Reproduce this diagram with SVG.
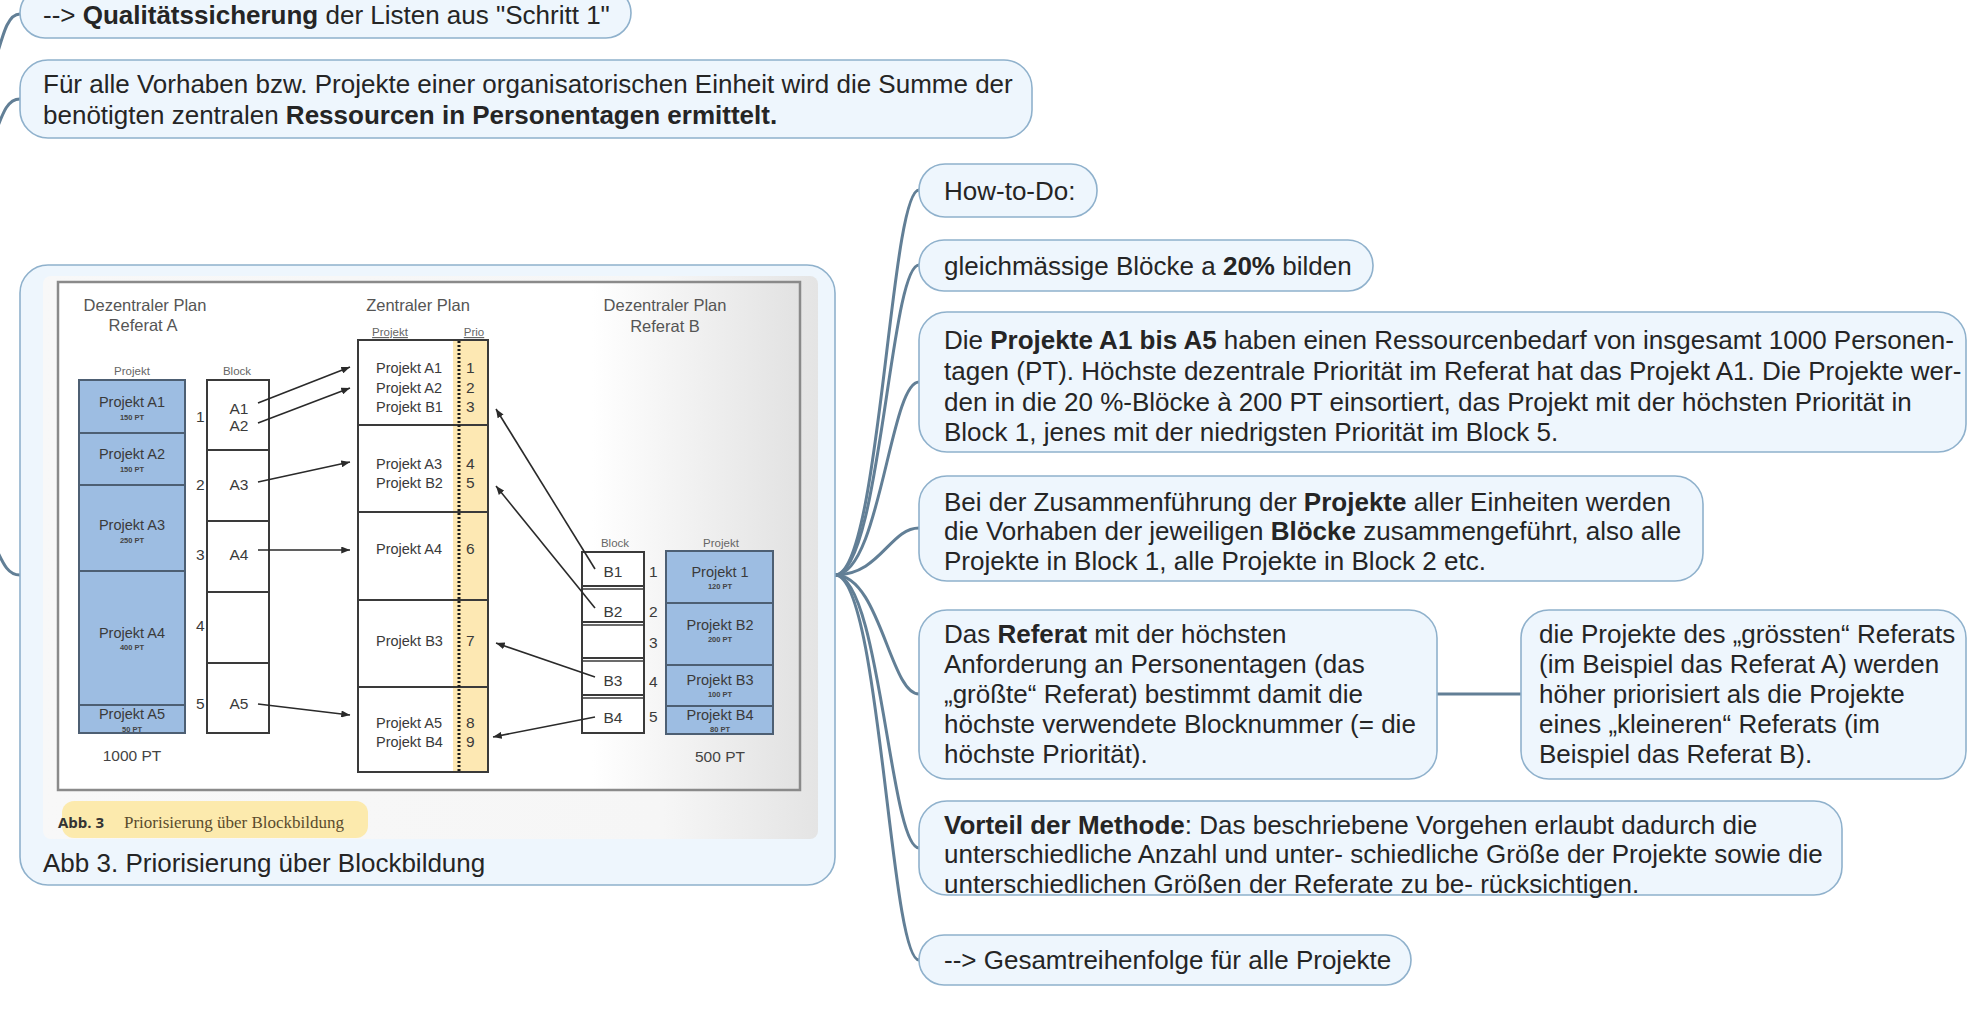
<svg xmlns="http://www.w3.org/2000/svg" width="1968" height="1019" viewBox="0 0 1968 1019">
<defs>
<style>
.box{fill:#eef6fd;stroke:#8fb1cc;stroke-width:1.6}
.t{font-family:"Liberation Sans",Arial,sans-serif;font-size:26px;fill:#252525}
.b{font-weight:bold}
.con{fill:none;stroke:#627f96;stroke-width:3}
.it{font-family:"Liberation Sans",Arial,sans-serif;fill:#444}
.h{font-size:16.5px;fill:#555;text-anchor:middle}
.lab{font-size:11.5px;fill:#666;text-anchor:middle}
.pj{font-size:14.5px;fill:#3a3a3a;text-anchor:middle}
.pt{font-size:7.5px;fill:#444;text-anchor:middle;font-weight:bold}
.ct{font-size:14.5px;fill:#3a3a3a}
.num{font-size:15.5px;fill:#3a3a3a}
.col{fill:#fff;stroke:#3a3a3a;stroke-width:2}
.blue{fill:#9dbde2;stroke:#4d5f73;stroke-width:2}
.arr{stroke:#2a2a2a;stroke-width:1.6;fill:none;marker-end:url(#ah)}
</style>
<marker id="ah" viewBox="0 0 10 8" refX="10" refY="4" markerWidth="9" markerHeight="7" markerUnits="userSpaceOnUse" orient="auto">
<path d="M0,0 L10,4 L0,8 Z" fill="#2a2a2a"/>
</marker>
<linearGradient id="imgbg" x1="0" y1="0" x2="1" y2="0">
<stop offset="0" stop-color="#f8f8f8"/>
<stop offset="0.8" stop-color="#f6f6f6"/>
<stop offset="1" stop-color="#e4e4e4"/>
</linearGradient>
<linearGradient id="framebg" x1="0" y1="0" x2="1" y2="0">
<stop offset="0" stop-color="#ffffff"/>
<stop offset="0.72" stop-color="#ffffff"/>
<stop offset="1" stop-color="#e2e2e2"/>
</linearGradient>
</defs>
<rect width="1968" height="1019" fill="#ffffff"/>

<g id="connectors">
<path class="con" d="M-8,72 C2,40 6,14 20,14"/>
<path class="con" d="M-8,142 C2,116 6,99 20,99"/>
<path class="con" d="M-8,540 C2,560 6,575 20,575"/>
<path class="con" d="M835,575 C880,575 890,190 919,190"/>
<path class="con" d="M835,575 C880,575 890,265 919,265"/>
<path class="con" d="M835,575 C880,575 890,382 919,382"/>
<path class="con" d="M835,575 C880,575 890,528 919,528"/>
<path class="con" d="M835,575 C880,575 890,694 919,694"/>
<path class="con" d="M835,575 C880,575 890,848 919,848"/>
<path class="con" d="M835,575 C880,575 890,960 919,960"/>
<path class="con" d="M1437,694 L1521,694"/>
</g>

<g id="node-qs">
<rect class="box" x="20" y="-12" width="611" height="50" rx="25"/>
<text class="t" x="43" y="24">--&gt; <tspan class="b">Qualitätssicherung</tspan> der Listen aus "Schritt 1"</text>
</g>

<g id="node-summe">
<rect class="box" x="20" y="60" width="1012" height="78" rx="28"/>
<text class="t" x="43" y="93">Für alle Vorhaben bzw. Projekte einer organisatorischen Einheit wird die Summe der</text>
<text class="t" x="43" y="124">benötigten zentralen <tspan class="b">Ressourcen in Personentagen ermittelt.</tspan></text>
</g>

<g id="node-image">
<rect class="box" x="20" y="265" width="815" height="620" rx="28"/>
<rect x="43" y="276" width="775" height="563" rx="8" fill="url(#imgbg)"/>
<rect x="58" y="282" width="742" height="508" fill="url(#framebg)" stroke="#8a8a8a" stroke-width="2.5"/>
<!-- Referat A -->
<text class="it h" x="145" y="311">Dezentraler Plan</text>
<text class="it h" x="143" y="331">Referat A</text>
<text class="it lab" x="132" y="375">Projekt</text>
<text class="it lab" x="237" y="375">Block</text>
<rect class="blue" x="79" y="380" width="106" height="353"/>
<line x1="79" y1="433" x2="185" y2="433" stroke="#4d5f73" stroke-width="2"/>
<line x1="79" y1="485" x2="185" y2="485" stroke="#4d5f73" stroke-width="2"/>
<line x1="79" y1="571" x2="185" y2="571" stroke="#4d5f73" stroke-width="2"/>
<line x1="79" y1="705" x2="185" y2="705" stroke="#4d5f73" stroke-width="2"/>
<text class="it pj" x="132" y="407">Projekt A1</text>
<text class="it pt" x="132" y="420">150 PT</text>
<text class="it pj" x="132" y="459">Projekt A2</text>
<text class="it pt" x="132" y="472">150 PT</text>
<text class="it pj" x="132" y="530">Projekt A3</text>
<text class="it pt" x="132" y="543">250 PT</text>
<text class="it pj" x="132" y="638">Projekt A4</text>
<text class="it pt" x="132" y="650">400 PT</text>
<text class="it pj" x="132" y="719">Projekt A5</text>
<text class="it pt" x="132" y="732">50 PT</text>
<text class="it" x="132" y="761" font-size="15.5" fill="#3a3a3a" text-anchor="middle">1000 PT</text>
<rect class="col" x="207" y="380" width="62" height="353"/>
<line x1="207" y1="450" x2="269" y2="450" stroke="#3a3a3a" stroke-width="2"/>
<line x1="207" y1="521" x2="269" y2="521" stroke="#3a3a3a" stroke-width="2"/>
<line x1="207" y1="592" x2="269" y2="592" stroke="#3a3a3a" stroke-width="2"/>
<line x1="207" y1="663" x2="269" y2="663" stroke="#3a3a3a" stroke-width="2"/>
<text class="it num" x="196" y="422">1</text>
<text class="it num" x="196" y="490">2</text>
<text class="it num" x="196" y="560">3</text>
<text class="it num" x="196" y="631">4</text>
<text class="it num" x="196" y="709">5</text>
<text class="it num" x="239" y="414" text-anchor="middle">A1</text>
<text class="it num" x="239" y="431" text-anchor="middle">A2</text>
<text class="it num" x="239" y="490" text-anchor="middle">A3</text>
<text class="it num" x="239" y="560" text-anchor="middle">A4</text>
<text class="it num" x="239" y="709" text-anchor="middle">A5</text>
<!-- Zentral -->
<text class="it h" x="418" y="311">Zentraler Plan</text>
<text class="it lab" x="390" y="336" text-decoration="underline">Projekt</text>
<text class="it lab" x="474" y="336" text-decoration="underline">Prio</text>
<rect x="453" y="340" width="35" height="432" fill="#fde8b3"/>
<rect x="358" y="340" width="130" height="432" fill="none" stroke="#3a3a3a" stroke-width="2"/>
<line x1="358" y1="425" x2="488" y2="425" stroke="#3a3a3a" stroke-width="2"/>
<line x1="358" y1="512" x2="488" y2="512" stroke="#3a3a3a" stroke-width="2"/>
<line x1="358" y1="600" x2="488" y2="600" stroke="#3a3a3a" stroke-width="2"/>
<line x1="358" y1="687" x2="488" y2="687" stroke="#3a3a3a" stroke-width="2"/>
<line x1="459" y1="341" x2="459" y2="772" stroke="#1a1a1a" stroke-width="3" stroke-dasharray="2 2"/>
<text class="it ct" x="376" y="373">Projekt A1</text>
<text class="it ct" x="376" y="393">Projekt A2</text>
<text class="it ct" x="376" y="412">Projekt B1</text>
<text class="it ct" x="376" y="469">Projekt A3</text>
<text class="it ct" x="376" y="488">Projekt B2</text>
<text class="it ct" x="376" y="554">Projekt A4</text>
<text class="it ct" x="376" y="646">Projekt B3</text>
<text class="it ct" x="376" y="728">Projekt A5</text>
<text class="it ct" x="376" y="747">Projekt B4</text>
<text class="it num" x="466" y="373" fill="#6b5a3a">1</text>
<text class="it num" x="466" y="393" fill="#6b5a3a">2</text>
<text class="it num" x="466" y="412" fill="#6b5a3a">3</text>
<text class="it num" x="466" y="469" fill="#6b5a3a">4</text>
<text class="it num" x="466" y="488" fill="#6b5a3a">5</text>
<text class="it num" x="466" y="554" fill="#6b5a3a">6</text>
<text class="it num" x="466" y="646" fill="#6b5a3a">7</text>
<text class="it num" x="466" y="728" fill="#6b5a3a">8</text>
<text class="it num" x="466" y="747" fill="#6b5a3a">9</text>
<!-- Referat B -->
<text class="it h" x="665" y="311">Dezentraler Plan</text>
<text class="it h" x="665" y="332">Referat B</text>
<text class="it lab" x="615" y="547">Block</text>
<text class="it lab" x="721" y="547">Projekt</text>
<rect class="col" x="582" y="552" width="62" height="181"/>
<line x1="582" y1="586" x2="644" y2="586" stroke="#3a3a3a" stroke-width="2"/>
<line x1="582" y1="589" x2="644" y2="589" stroke="#3a3a3a" stroke-width="1.5"/>
<line x1="582" y1="622" x2="644" y2="622" stroke="#3a3a3a" stroke-width="2"/>
<line x1="582" y1="625" x2="644" y2="625" stroke="#3a3a3a" stroke-width="1.5"/>
<line x1="582" y1="658" x2="644" y2="658" stroke="#3a3a3a" stroke-width="2"/>
<line x1="582" y1="661" x2="644" y2="661" stroke="#3a3a3a" stroke-width="1.5"/>
<line x1="582" y1="695" x2="644" y2="695" stroke="#3a3a3a" stroke-width="2"/>
<line x1="582" y1="698" x2="644" y2="698" stroke="#3a3a3a" stroke-width="1.5"/>
<text class="it num" x="613" y="577" text-anchor="middle">B1</text>
<text class="it num" x="613" y="617" text-anchor="middle">B2</text>
<text class="it num" x="613" y="686" text-anchor="middle">B3</text>
<text class="it num" x="613" y="723" text-anchor="middle">B4</text>
<text class="it num" x="649" y="577">1</text>
<text class="it num" x="649" y="617">2</text>
<text class="it num" x="649" y="648">3</text>
<text class="it num" x="649" y="687">4</text>
<text class="it num" x="649" y="722">5</text>
<rect class="blue" x="666" y="551" width="107" height="183"/>
<line x1="666" y1="603" x2="773" y2="603" stroke="#4d5f73" stroke-width="2"/>
<line x1="666" y1="665" x2="773" y2="665" stroke="#4d5f73" stroke-width="2"/>
<line x1="666" y1="706" x2="773" y2="706" stroke="#4d5f73" stroke-width="2"/>
<text class="it pj" x="720" y="577">Projekt 1</text>
<text class="it pt" x="720" y="589">120 PT</text>
<text class="it pj" x="720" y="630">Projekt B2</text>
<text class="it pt" x="720" y="642">200 PT</text>
<text class="it pj" x="720" y="685">Projekt B3</text>
<text class="it pt" x="720" y="697">100 PT</text>
<text class="it pj" x="720" y="720">Projekt B4</text>
<text class="it pt" x="720" y="732">80 PT</text>
<text class="it" x="720" y="762" font-size="15.5" fill="#3a3a3a" text-anchor="middle">500 PT</text>
<!-- arrows -->
<line class="arr" x1="258" y1="403" x2="350" y2="367"/>
<line class="arr" x1="258" y1="423" x2="350" y2="388"/>
<line class="arr" x1="258" y1="482" x2="350" y2="462"/>
<line class="arr" x1="258" y1="550" x2="350" y2="550"/>
<line class="arr" x1="258" y1="704" x2="350" y2="715"/>
<line class="arr" x1="595" y1="569" x2="496" y2="409"/>
<line class="arr" x1="595" y1="608" x2="496" y2="486"/>
<line class="arr" x1="595" y1="677" x2="496" y2="643"/>
<line class="arr" x1="595" y1="717" x2="493" y2="737"/>
<!-- caption in image -->
<rect x="62" y="801" width="306" height="37" rx="12" fill="#fde7a0" opacity="0.85"/>
<text x="58" y="828" font-family="'Open Sans','Liberation Sans',sans-serif" font-weight="bold" font-size="15" fill="#333">Abb. 3</text>
<text x="124" y="828" font-family="'Liberation Serif','Times New Roman',serif" font-size="17" fill="#5a4a2c">Priorisierung über Blockbildung</text>
<text class="t" x="43" y="872">Abb 3. Priorisierung über Blockbildung</text>
</g>

<g id="node-howto">
<rect class="box" x="919" y="164" width="178" height="53" rx="26"/>
<text class="t" x="944" y="200">How-to-Do:</text>
</g>

<g id="node-bloecke">
<rect class="box" x="919" y="240" width="454" height="51" rx="25"/>
<text class="t" x="944" y="275">gleichmässige Blöcke a <tspan class="b">20%</tspan> bilden</text>
</g>

<g id="node-projekte">
<rect class="box" x="919" y="312" width="1047" height="140" rx="28"/>
<text class="t" x="944" y="349">Die <tspan class="b">Projekte A1 bis A5</tspan> haben einen Ressourcenbedarf von insgesamt 1000 Personen-</text>
<text class="t" x="944" y="380">tagen (PT). Höchste dezentrale Priorität im Referat hat das Projekt A1. Die Projekte wer-</text>
<text class="t" x="944" y="411">den in die 20 %-Blöcke à 200 PT einsortiert, das Projekt mit der höchsten Priorität in</text>
<text class="t" x="944" y="441">Block 1, jenes mit der niedrigsten Priorität im Block 5.</text>
</g>

<g id="node-zusammen">
<rect class="box" x="919" y="476" width="784" height="105" rx="28"/>
<text class="t" x="944" y="511">Bei der Zusammenführung der <tspan class="b">Projekte</tspan> aller Einheiten werden</text>
<text class="t" x="944" y="540">die Vorhaben der jeweiligen <tspan class="b">Blöcke</tspan> zusammengeführt, also alle</text>
<text class="t" x="944" y="570">Projekte in Block 1, alle Projekte in Block 2 etc.</text>
</g>

<g id="node-referat">
<rect class="box" x="919" y="610" width="518" height="169" rx="28"/>
<text class="t" x="944" y="643">Das <tspan class="b">Referat</tspan> mit der höchsten</text>
<text class="t" x="944" y="673">Anforderung an Personentagen (das</text>
<text class="t" x="944" y="703">„größte“ Referat) bestimmt damit die</text>
<text class="t" x="944" y="733">höchste verwendete Blocknummer (= die</text>
<text class="t" x="944" y="763">höchste Priorität).</text>
</g>

<g id="node-groesste">
<rect class="box" x="1521" y="610" width="445" height="169" rx="28"/>
<text class="t" x="1539" y="643">die Projekte des „grössten“ Referats</text>
<text class="t" x="1539" y="673">(im Beispiel das Referat A) werden</text>
<text class="t" x="1539" y="703">höher priorisiert als die Projekte</text>
<text class="t" x="1539" y="733">eines „kleineren“ Referats (im</text>
<text class="t" x="1539" y="763">Beispiel das Referat B).</text>
</g>

<g id="node-vorteil">
<rect class="box" x="919" y="801" width="923" height="94" rx="28"/>
<text class="t" x="944" y="834"><tspan class="b">Vorteil der Methode</tspan>: Das beschriebene Vorgehen erlaubt dadurch die</text>
<text class="t" x="944" y="863">unterschiedliche Anzahl und unter- schiedliche Größe der Projekte sowie die</text>
<text class="t" x="944" y="893">unterschiedlichen Größen der Referate zu be- rücksichtigen.</text>
</g>

<g id="node-gesamt">
<rect class="box" x="919" y="935" width="492" height="50" rx="25"/>
<text class="t" x="944" y="969">--&gt; Gesamtreihenfolge für alle Projekte</text>
</g>
</svg>
